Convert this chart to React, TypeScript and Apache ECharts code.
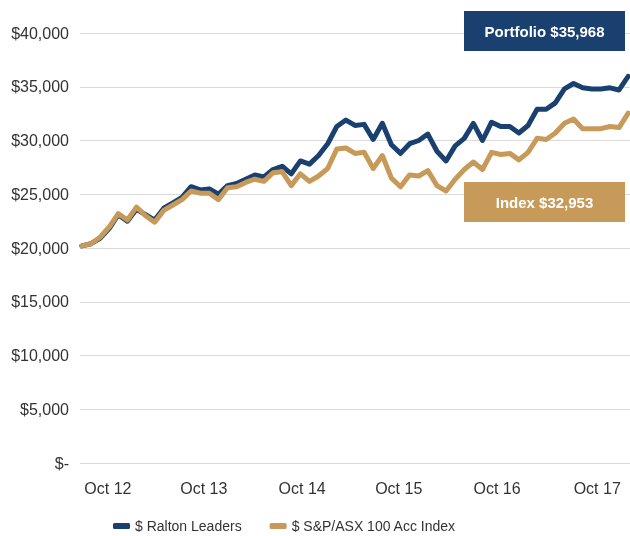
import React, { useEffect, useRef } from "react";
import * as echarts from "echarts";

const raltonLeaders = [
  20200, 20400, 20900, 21800, 23100, 22500, 23600, 23100, 22600, 23700,
  24200, 24700, 25700, 25400, 25500, 25000, 25800, 26000, 26400, 26800,
  26600, 27300, 27600, 26900, 28100, 27800, 28600, 29700, 31300, 31900,
  31400, 31500, 30100, 31600, 29600, 28800, 29700, 30000, 30600, 29000,
  28100, 29500, 30200, 31600, 30000, 31700, 31300, 31300, 30700, 31400,
  32900, 32900, 33500, 34800, 35300, 34900, 34800, 34800, 34900, 34700,
  35968,
];

const asxIndex = [
  20200, 20400, 21000, 21950, 23200, 22600, 23800, 23000, 22400, 23500,
  24000, 24500, 25300, 25100, 25100, 24500, 25600, 25700, 26100, 26400,
  26200, 27000, 27100, 25800, 26900, 26200, 26700, 27400, 29200, 29300,
  28800, 28900, 27400, 28600, 26500, 25700, 26800, 26700, 27200, 25800,
  25300, 26400, 27300, 28000, 27300, 28900, 28700, 28800, 28200, 28900,
  30200, 30100, 30700, 31600, 32000, 31100, 31100, 31100, 31300, 31200,
  32550,
];

const xTickLabels = ["Oct 12", "Oct 13", "Oct 14", "Oct 15", "Oct 16", "Oct 17"];
const xTickPositions = [2.86, 13.4, 24.2, 34.8, 45.6, 56.6];

const seriesNames = ["$ Ralton Leaders", "$ S&P/ASX 100 Acc Index"];
const portfolioLabel = "Portfolio $35,968";
const indexLabel = "Index $32,953";

const NAVY = "#1a406f";
const GOLD = "#c79a5a";
const FONT = "Liberation Sans";

export default function App() {
  const ref = useRef<HTMLDivElement>(null);

  useEffect(() => {
    if (!ref.current) return;
    const chart = echarts.init(ref.current, null, { renderer: "svg" });
    const toPairs = (arr: number[]) => arr.map((v, i) => [i, v]);
    chart.setOption({
      animation: false,
      textStyle: { fontFamily: FONT },
      grid: { left: 80, right: 0, top: 33, bottom: 73 },
      xAxis: {
        type: "value",
        min: -0.2,
        max: 60.2,
        axisLine: { show: false },
        axisTick: { show: false },
        splitLine: { show: false },
        axisLabel: {
          customValues: xTickPositions,
          margin: 17,
          fontSize: 16,
          color: "#333333",
          fontFamily: FONT,
          formatter: (v: number) => {
            let best = 0;
            xTickPositions.forEach((p, i) => {
              if (Math.abs(p - v) < Math.abs(xTickPositions[best] - v)) best = i;
            });
            return xTickLabels[best];
          },
        },
      },
      yAxis: {
        type: "value",
        min: 0,
        max: 40000,
        interval: 5000,
        axisLine: { show: false },
        axisTick: { show: false },
        splitLine: { lineStyle: { color: "#d9d9d9", width: 1 } },
        axisLabel: {
          margin: 11,
          fontSize: 16,
          color: "#333333",
          fontFamily: FONT,
          formatter: (v: number) =>
            v === 0 ? "$-" : "$" + v.toLocaleString("en-US"),
        },
      },
      legend: {
        data: seriesNames,
        left: 113,
        top: 519,
        padding: 0,
        icon: "roundRect",
        itemWidth: 17,
        itemHeight: 6,
        itemGap: 28,
        textStyle: { fontSize: 14, color: "#333333", fontFamily: FONT },
      },
      series: [
        {
          name: seriesNames[0],
          type: "line",
          data: toPairs(raltonLeaders),
          symbol: "none",
          color: NAVY,
          lineStyle: { width: 5, color: NAVY, join: "round", cap: "round" },
        },
        {
          name: seriesNames[1],
          type: "line",
          data: toPairs(asxIndex),
          symbol: "none",
          color: GOLD,
          lineStyle: { width: 5, color: GOLD, join: "round", cap: "round" },
        },
      ],
      graphic: [
        {
          type: "rect",
          shape: { x: 464, y: 11, width: 161, height: 40 },
          style: { fill: NAVY },
          z: 10,
        },
        {
          type: "text",
          x: 544.5,
          y: 31,
          style: {
            text: portfolioLabel,
            fill: "#ffffff",
            font: `bold 15px "${FONT}"`,
            textAlign: "center",
            textVerticalAlign: "middle",
          },
          z: 11,
        },
        {
          type: "rect",
          shape: { x: 464, y: 182, width: 161, height: 40 },
          style: { fill: GOLD },
          z: 10,
        },
        {
          type: "text",
          x: 544.5,
          y: 202,
          style: {
            text: indexLabel,
            fill: "#ffffff",
            font: `bold 15px "${FONT}"`,
            textAlign: "center",
            textVerticalAlign: "middle",
          },
          z: 11,
        },
      ],
    });
    return () => chart.dispose();
  }, []);

  return (
    <div
      ref={ref}
      style={{ position: "fixed", left: 0, top: 0, width: 630, height: 536 }}
    />
  );
}
